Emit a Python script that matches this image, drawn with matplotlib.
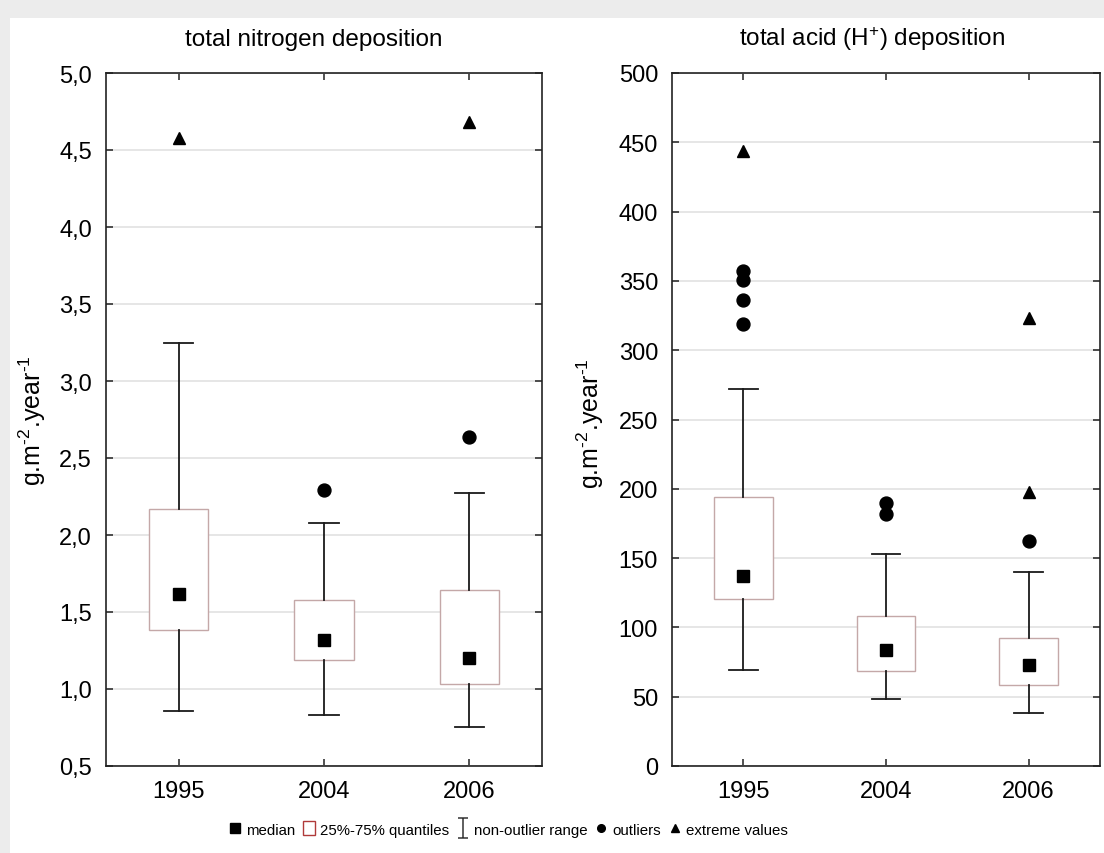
import matplotlib
matplotlib.use("Agg")
import matplotlib.pyplot as plt
from matplotlib.patches import Rectangle, Patch
from matplotlib.lines import Line2D
from matplotlib.path import Path

plt.rcParams['font.family'] = ['Liberation Sans', 'DejaVu Sans']
plt.rcParams['mathtext.fontset'] = 'custom'
plt.rcParams['mathtext.rm'] = 'Liberation Sans'
plt.rcParams['mathtext.it'] = 'Liberation Sans:italic'
plt.rcParams['mathtext.default'] = 'regular'

# ---------------- data ----------------
years = ['1995', '2004', '2006']

# total nitrogen deposition
n_med = [1.62, 1.32, 1.20]
n_q1 = [1.38, 1.19, 1.03]
n_q3 = [2.17, 1.58, 1.64]
n_lo = [0.86, 0.83, 0.755]
n_hi = [3.25, 2.075, 2.27]
n_out_x = [1, 2]
n_out_y = [2.295, 2.635]
n_ext_x = [0, 2]
n_ext_y = [4.58, 4.685]
n_ticks = [0.5, 1.0, 1.5, 2.0, 2.5, 3.0, 3.5, 4.0, 4.5, 5.0]
n_ticklabels = ['0,5', '1,0', '1,5', '2,0', '2,5', '3,0', '3,5', '4,0', '4,5', '5,0']

# total acid deposition
h_med = [137, 84, 73]
h_q1 = [120.5, 68.5, 58.5]
h_q3 = [194, 108.5, 92.5]
h_lo = [69, 48.5, 38]
h_hi = [272, 153, 140]
h_out_x = [0, 0, 0, 0, 1, 1, 2]
h_out_y = [357, 350.5, 336.5, 319, 189.5, 181.5, 162]
h_ext_x = [0, 2, 2]
h_ext_y = [444, 323, 198]
h_ticks = [0, 50, 100, 150, 200, 250, 300, 350, 400, 450, 500]
h_ticklabels = ['0', '50', '100', '150', '200', '250', '300', '350', '400', '450', '500']

titles = ['total nitrogen deposition', 'total acid (H$^{+}$) deposition']
ylabel = r'g.m$^{\text{-2}}$.year$^{\text{-1}}$'
legend_labels = ['median', '25%-75% quantiles', 'non-outlier range', 'outliers', 'extreme values']

# ---------------- figure ----------------
W, H = 1104, 854
fig = plt.figure(figsize=(W / 100, H / 100), dpi=100, facecolor='#ececec')
fig.patches.append(Rectangle((10 / W, 0), 1, (H - 19) / H, transform=fig.transFigure,
                             facecolor='white', edgecolor='none', zorder=-5))

ax1 = fig.add_axes([106 / W, 1 - 767 / H, 436 / W, 693 / H])
ax2 = fig.add_axes([672 / W, 1 - 767 / H, 428 / W, 693 / H])

box_edge = '#c4a8a8'
line_col = '#1a1a1a'


def draw(ax, med, q1, q3, lo, hi, ox, oy, ex, ey, ticks, ticklabels, ylim):
    stats = []
    for i in range(len(years)):
        stats.append(dict(med=med[i], q1=q1[i], q3=q3[i], whislo=lo[i], whishi=hi[i],
                          fliers=[], label=years[i]))
    ax.bxp(stats, positions=range(len(years)), widths=0.41, capwidths=0.2,
           showfliers=False, patch_artist=True,
           boxprops=dict(facecolor='white', edgecolor=box_edge, linewidth=1.0),
           whiskerprops=dict(color=line_col, linewidth=1.3),
           capprops=dict(color=line_col, linewidth=1.3),
           medianprops=dict(linestyle='none'))
    ax.plot(range(len(years)), med, linestyle='none', marker='s', ms=9, color='black', zorder=5)
    ax.plot(ox, oy, linestyle='none', marker='o', ms=9.3, color='black', zorder=5)
    ax.plot(ex, ey, linestyle='none', marker='^', ms=8.5, color='black', zorder=5)
    ax.set_xlim(-0.5, len(years) - 0.5)
    ax.set_ylim(*ylim)
    ax.set_xticks(range(len(years)))
    ax.set_xticklabels(years)
    ax.set_yticks(ticks)
    ax.set_yticklabels(ticklabels)
    ax.yaxis.grid(True, color='#e2e2e2', linewidth=1.2)
    ax.set_axisbelow(True)
    ax.tick_params(direction='in', top=True, right=True, length=5, width=1.1,
                   labelsize=17, color='#222222', pad=10)
    for s in ax.spines.values():
        s.set_linewidth(1.2)
        s.set_color('#222222')


draw(ax1, n_med, n_q1, n_q3, n_lo, n_hi, n_out_x, n_out_y, n_ext_x, n_ext_y,
     n_ticks, n_ticklabels, (0.5, 5.0))
draw(ax2, h_med, h_q1, h_q3, h_lo, h_hi, h_out_x, h_out_y, h_ext_x, h_ext_y,
     h_ticks, h_ticklabels, (0, 500))

fig.text(314 / W, 1 - 46 / H, titles[0], ha='center', va='baseline', fontsize=17.5)
fig.text(872 / W, 1 - 46 / H, titles[1], ha='center', va='baseline', fontsize=17.5)
fig.text(32 / W, 1 - 421 / H, ylabel, rotation=90, ha='center', va='center', fontsize=18)
fig.text(590 / W, 1 - 424 / H, ylabel, rotation=90, ha='center', va='center', fontsize=18)

ibeam = Path([(-0.5, 1), (0.5, 1), (0, 1), (0, -1), (-0.5, -1), (0.5, -1)],
             [Path.MOVETO, Path.LINETO, Path.MOVETO, Path.LINETO, Path.MOVETO, Path.LINETO])
handles = [
    Line2D([], [], linestyle='none', marker='s', ms=6.5, color='black'),
    Patch(facecolor='white', edgecolor='#b03a3a', linewidth=1.0),
    Line2D([], [], linestyle='none', marker=ibeam, ms=14, color='#333333',
           markeredgewidth=1.1, markerfacecolor='none'),
    Line2D([], [], linestyle='none', marker='o', ms=5.5, color='black'),
    Line2D([], [], linestyle='none', marker='^', ms=5.5, color='black'),
]
fig.legend(handles, legend_labels, loc='center', bbox_to_anchor=(508 / W, 1 - 830 / H),
           ncol=5, frameon=False, fontsize=10.8, handlelength=0.85, handleheight=1.05,
           handletextpad=0.3, columnspacing=0.5, borderpad=0)

fig.savefig('out.png', dpi=100, facecolor=fig.get_facecolor())
